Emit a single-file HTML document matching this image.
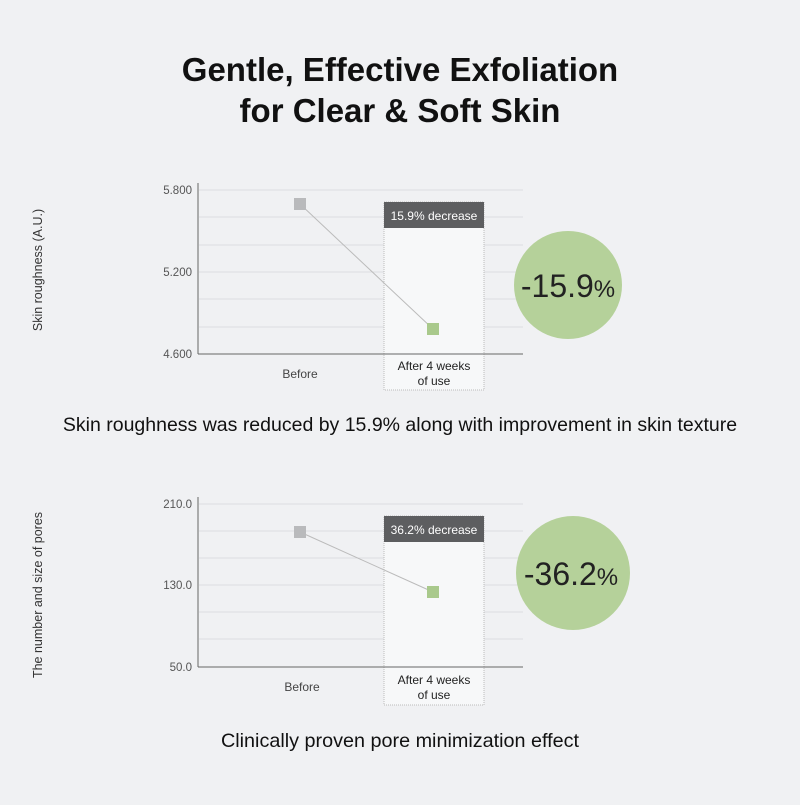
<!DOCTYPE html>
<html><head><style>body{margin:0;background:#f0f1f3}</style></head><body>
<svg width="800" height="800" xmlns="http://www.w3.org/2000/svg" font-family="Liberation Sans, sans-serif">
<rect width="800" height="800" fill="#f0f1f3"/>
<text x="400" y="81" text-anchor="middle" font-size="33" font-weight="bold" fill="#111">Gentle, Effective Exfoliation</text>
<text x="400" y="122" text-anchor="middle" font-size="33" font-weight="bold" fill="#111">for Clear &amp; Soft Skin</text>

<g>
<text transform="translate(42,270) rotate(-90)" text-anchor="middle" font-size="12.5" fill="#333">Skin roughness (A.U.)</text>
<g stroke="#dcdde0" stroke-width="1">
<line x1="199" y1="190" x2="523" y2="190"/><line x1="199" y1="217" x2="523" y2="217"/><line x1="199" y1="245" x2="523" y2="245"/><line x1="199" y1="272" x2="523" y2="272"/><line x1="199" y1="299" x2="523" y2="299"/><line x1="199" y1="327" x2="523" y2="327"/></g>
<rect x="384" y="202" width="100" height="188" fill="#f7f8f9" stroke="#bbb" stroke-dasharray="1,1"/>
<rect x="384" y="202" width="100" height="26" fill="#5d5e60"/>
<text x="434" y="220" text-anchor="middle" font-size="12" fill="#fff">15.9% decrease</text>
<line x1="198" y1="183" x2="198" y2="354" stroke="#666"/>
<line x1="198" y1="354" x2="523" y2="354" stroke="#666"/>
<g font-size="11.5" fill="#555" text-anchor="end"><text x="192" y="194">5.800</text><text x="192" y="276">5.200</text><text x="192" y="358">4.600</text></g>
<line x1="300" y1="204" x2="433" y2="329" stroke="#bbb"/>
<rect x="294" y="198" width="12" height="12" fill="#b9babc"/>
<rect x="427" y="323" width="12" height="12" fill="#a9c98c"/>
<text x="300" y="378" text-anchor="middle" font-size="12" fill="#444">Before</text>
<text x="434" y="370" text-anchor="middle" font-size="12" fill="#222">After 4 weeks</text>
<text x="434" y="385" text-anchor="middle" font-size="12" fill="#222">of use</text>
<circle cx="568" cy="285" r="54" fill="#b5d19a"/>
<text x="568" y="297" text-anchor="middle" font-size="32" fill="#222">-15.9<tspan font-size="24">%</tspan></text>
<text x="400" y="431" text-anchor="middle" font-size="19.5" fill="#111">Skin roughness was reduced by 15.9% along with improvement in skin texture</text>
</g>

<g>
<text transform="translate(42,595) rotate(-90)" text-anchor="middle" font-size="12.5" fill="#333">The number and size of pores</text>
<g stroke="#dcdde0" stroke-width="1">
<line x1="199" y1="504" x2="523" y2="504"/><line x1="199" y1="531" x2="523" y2="531"/><line x1="199" y1="558" x2="523" y2="558"/><line x1="199" y1="585" x2="523" y2="585"/><line x1="199" y1="612" x2="523" y2="612"/><line x1="199" y1="639" x2="523" y2="639"/></g>
<rect x="384" y="516" width="100" height="189" fill="#f7f8f9" stroke="#bbb" stroke-dasharray="1,1"/>
<rect x="384" y="516" width="100" height="26" fill="#5d5e60"/>
<text x="434" y="534" text-anchor="middle" font-size="12" fill="#fff">36.2% decrease</text>
<line x1="198" y1="497" x2="198" y2="667" stroke="#666"/>
<line x1="198" y1="667" x2="523" y2="667" stroke="#666"/>
<g font-size="11.5" fill="#555" text-anchor="end"><text x="192" y="508">210.0</text><text x="192" y="589">130.0</text><text x="192" y="671">50.0</text></g>
<line x1="300" y1="532" x2="433" y2="592" stroke="#bbb"/>
<rect x="294" y="526" width="12" height="12" fill="#b9babc"/>
<rect x="427" y="586" width="12" height="12" fill="#a9c98c"/>
<text x="302" y="691" text-anchor="middle" font-size="12" fill="#444">Before</text>
<text x="434" y="684" text-anchor="middle" font-size="12" fill="#222">After 4 weeks</text>
<text x="434" y="699" text-anchor="middle" font-size="12" fill="#222">of use</text>
<circle cx="573" cy="573" r="57" fill="#b5d19a"/>
<text x="571" y="585" text-anchor="middle" font-size="32" fill="#222">-36.2<tspan font-size="24">%</tspan></text>
<text x="400" y="747" text-anchor="middle" font-size="19.8" fill="#111">Clinically proven pore minimization effect</text>
</g>
</svg>
</body></html>
